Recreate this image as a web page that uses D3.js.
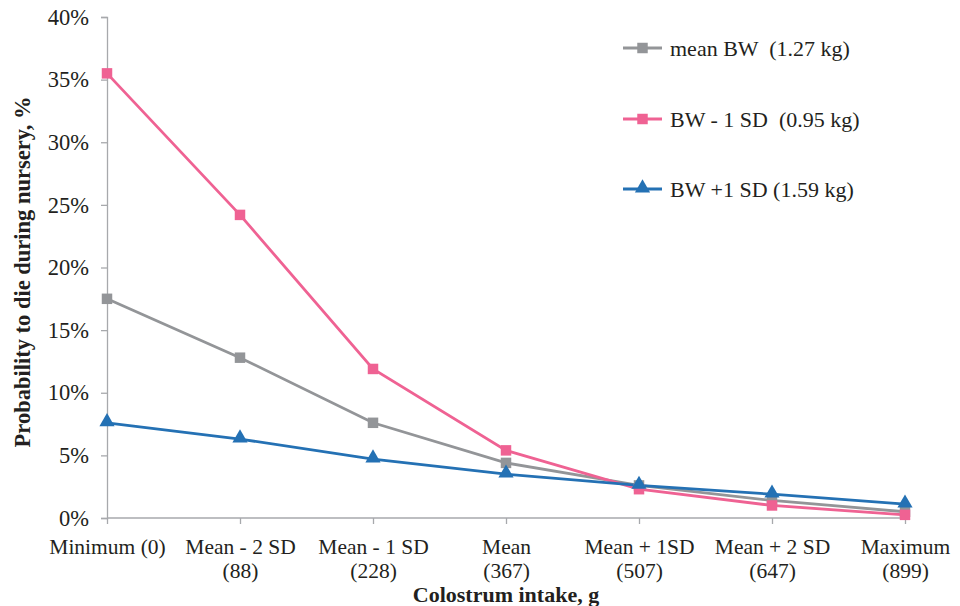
<!DOCTYPE html>
<html><head><meta charset="utf-8">
<script src="https://cdn.jsdelivr.net/npm/d3@7"></script>
<style>body{margin:0;background:#fff;} svg text{font-family:"Liberation Serif","Times New Roman","DejaVu Serif",serif !important;fill:#231f20;white-space:pre;}</style>
</head><body><svg id="c" width="960" height="606"></svg>
<script>
const categories = ["Minimum (0)|", "Mean - 2 SD|(88)", "Mean - 1 SD|(228)", "Mean|(367)", "Mean + 1SD|(507)", "Mean + 2 SD|(647)", "Maximum|(899)"];
const meanBW = [17.5, 12.8, 7.6, 4.4, 2.6, 1.4, 0.5];
const bwMinus1SD = [35.5, 24.2, 11.9, 5.4, 2.3, 1.0, 0.25];
const bwPlus1SD = [7.6, 6.3, 4.7, 3.5, 2.6, 1.9, 1.1];
const yTicks = [0, 5, 10, 15, 20, 25, 30, 35, 40];
const seriesNames = ["mean BW  (1.27 kg)", "BW - 1 SD  (0.95 kg)", "BW +1 SD (1.59 kg)"];

const FONT = '"Liberation Serif","Times New Roman","DejaVu Serif",serif';
const series = [
  {name: seriesNames[0], values: meanBW, color: "#939598", marker: "square"},
  {name: seriesNames[1], values: bwMinus1SD, color: "#ef6293", marker: "square"},
  {name: seriesNames[2], values: bwPlus1SD, color: "#2471b4", marker: "triangle"}
];

const svg = d3.select("#c");
const x = d3.scalePoint().domain(d3.range(categories.length)).range([107, 905]);
const y = d3.scaleLinear().domain([0, 40]).range([518, 17]);

// y axis
const ya = svg.append("g").attr("transform", "translate(107,0)")
  .call(d3.axisLeft(y).tickValues(yTicks).tickFormat(d => d + "%").tickSize(6).tickPadding(12));
ya.attr("font-family", FONT);
ya.select(".domain").attr("stroke", "#a7a9ac").attr("stroke-width", 1.3);
ya.selectAll(".tick line").attr("stroke", "#a7a9ac").attr("stroke-width", 1.3);
ya.selectAll(".tick text").style("font-size", "22.5px").attr("fill", "#231f20");

// x axis
const xa = svg.append("g").attr("transform", "translate(0,518)")
  .call(d3.axisBottom(x).tickSize(6).tickFormat(""));
xa.attr("font-family", FONT);
xa.select(".domain").attr("stroke", "#a7a9ac").attr("stroke-width", 1.3).attr("d", "M107,0H905");
xa.selectAll(".tick line").attr("stroke", "#a7a9ac").attr("stroke-width", 1.3);
xa.selectAll(".tick").each(function(d) {
  const parts = categories[d].split("|");
  const g = d3.select(this);
  g.append("text").attr("text-anchor", "middle").attr("font-family", FONT)
    .attr("x", 0).attr("y", 36).style("font-size", "21.5px").attr("fill", "#231f20").text(parts[0]);
  if (parts[1]) g.append("text").attr("text-anchor", "middle").attr("font-family", FONT)
    .attr("x", 0).attr("y", 60).style("font-size", "21.5px").attr("fill", "#231f20").text(parts[1]);
});

// axis titles
svg.append("text").attr("x", 506).attr("y", 601.5).attr("text-anchor", "middle").attr("font-family", FONT)
  .style("font-size", "22px").style("font-weight", "bold").text("Colostrum intake, g");
svg.append("text").attr("transform", "translate(30,272) rotate(-90)").attr("text-anchor", "middle").attr("font-family", FONT)
  .style("font-size", "22.5px").style("font-weight", "bold").text("Probability to die during nursery, %");

const line = d3.line().x((d, i) => x(i)).y(d => y(d));
const sq = d3.symbol().type(d3.symbolSquare).size(110);
const tri = d3.symbol().type(d3.symbolTriangle).size(100);

series.forEach(s => {
  svg.append("path").datum(s.values).attr("d", line).attr("fill", "none")
    .attr("stroke", s.color).attr("stroke-width", 2.8);
});
series.forEach(s => {
  svg.append("g").selectAll("path").data(s.values).join("path")
    .attr("transform", (d, i) => `translate(${x(i)},${y(d) + (s.marker === "triangle" ? -1 : 0)})`)
    .attr("d", s.marker === "square" ? sq : tri).attr("fill", s.color);
});

// legend
const legY = [48, 119, 189];
series.forEach((s, i) => {
  const g = svg.append("g").attr("transform", `translate(623,${legY[i]})`);
  g.append("line").attr("x1", 0).attr("x2", 39).attr("stroke", s.color).attr("stroke-width", 2.8);
  g.append("path").attr("transform", `translate(19.5,${s.marker === "triangle" ? -1 : 0})`)
    .attr("d", s.marker === "square" ? sq : tri).attr("fill", s.color);
  g.append("text").attr("x", 47).attr("y", 7.5).attr("font-family", FONT).attr("xml:space", "preserve")
    .style("font-size", "22px").text(s.name);
});
</script></body></html>
